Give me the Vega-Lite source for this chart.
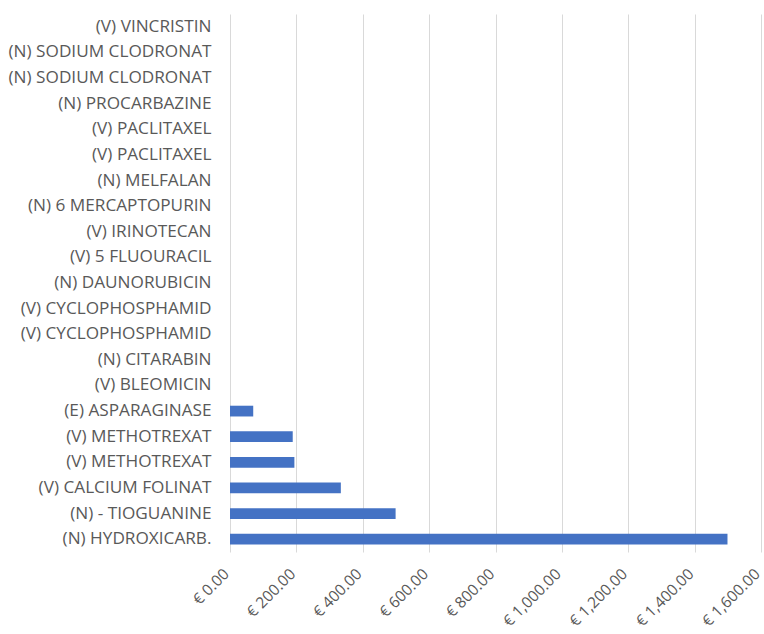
{
  "$schema": "https://vega.github.io/schema/vega-lite/v6.json",
  "autosize": "none",
  "width": 531,
  "height": 538,
  "padding": {"left": 230, "top": 14, "right": 3, "bottom": 82},
  "background": "white",
  "data": {
    "values": [
      {"drug": "(V) VINCRISTIN|1", "cost": 0},
      {"drug": "(N) SODIUM CLODRONAT|1", "cost": 0},
      {"drug": "(N) SODIUM CLODRONAT|2", "cost": 0},
      {"drug": "(N) PROCARBAZINE|1", "cost": 0},
      {"drug": "(V) PACLITAXEL|1", "cost": 0},
      {"drug": "(V) PACLITAXEL|2", "cost": 0},
      {"drug": "(N) MELFALAN|1", "cost": 0},
      {"drug": "(N) 6 MERCAPTOPURIN|1", "cost": 0},
      {"drug": "(V) IRINOTECAN|1", "cost": 0},
      {"drug": "(V) 5 FLUOURACIL|1", "cost": 0},
      {"drug": "(N) DAUNORUBICIN|1", "cost": 0},
      {"drug": "(V) CYCLOPHOSPHAMID|1", "cost": 0},
      {"drug": "(V) CYCLOPHOSPHAMID|2", "cost": 0},
      {"drug": "(N) CITARABIN|1", "cost": 0},
      {"drug": "(V) BLEOMICIN|1", "cost": 0},
      {"drug": "(E) ASPARAGINASE|1", "cost": 70},
      {"drug": "(V) METHOTREXAT|1", "cost": 189},
      {"drug": "(V) METHOTREXAT|2", "cost": 194},
      {"drug": "(V) CALCIUM FOLINAT|1", "cost": 334},
      {"drug": "(N) - TIOGUANINE|1", "cost": 499},
      {"drug": "(N) HYDROXICARB.|1", "cost": 1499}
    ]
  },
  "mark": {"type": "bar", "color": "#4472C4"},
  "encoding": {
    "y": {
      "field": "drug",
      "type": "nominal",
      "sort": null,
      "scale": {"paddingInner": 0.58, "paddingOuter": 0.29},
      "axis": {
        "title": null,
        "domain": false,
        "ticks": false,
        "labelExpr": "split(datum.label, '|')[0]",
        "labelFont": "Open Sans",
        "labelFontSize": 17.2,
        "labelColor": "#595959",
        "labelPadding": 19,
        "labelLimit": 300
      }
    },
    "x": {
      "field": "cost",
      "type": "quantitative",
      "scale": {"domain": [0, 1600], "nice": false},
      "axis": {
        "title": null,
        "values": [0, 200, 400, 600, 800, 1000, 1200, 1400, 1600],
        "labelExpr": "'€ ' + format(datum.value, ',.2f')",
        "labelAngle": -45,
        "labelAlign": "right",
        "labelBaseline": "middle",
        "labelFont": "Open Sans",
        "labelFontSize": 15.5,
        "labelColor": "#595959",
        "labelPadding": 19,
        "labelOffset": -4,
        "labelFlush": false,
        "labelOverlap": false,
        "domain": false,
        "ticks": false,
        "grid": true,
        "gridColor": "#D9D9D9",
        "gridWidth": 1
      }
    }
  },
  "config": {"view": {"stroke": null}}
}
